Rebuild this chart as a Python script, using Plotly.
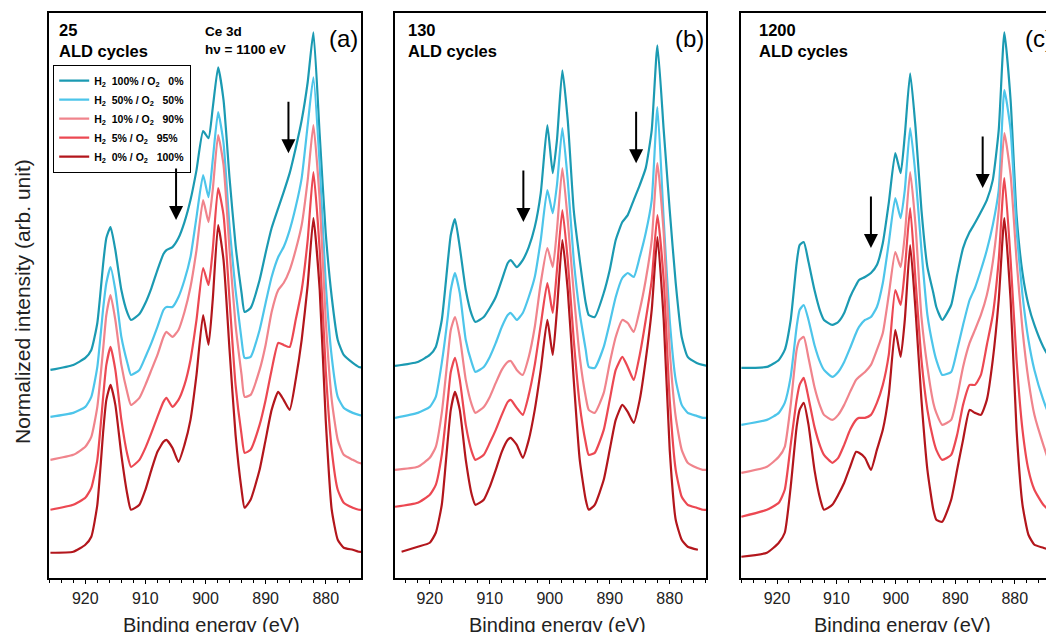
import plotly.graph_objects as go

# binding energy grid (eV) the curves were read at
energy = [925.8, 922, 920, 919, 918, 917, 916.5, 915.8, 915, 914, 913, 912.4, 911, 910, 909, 908,
          907, 906.5, 905.5, 904.5, 903.5, 902.5, 901.5, 900.4, 899.5, 898.8, 897.9, 897, 896, 895,
          894, 893.5, 892.5, 891, 890, 889, 887.9, 887, 886, 885, 884, 883, 882.05, 881, 880, 879,
          878, 877, 875.5, 874.5, 873.5]
energy_c = [926.0, 921.7, 919.7, 918.7, 917.7, 916.7, 916.2, 915.5, 914.7, 913.7, 912.7, 912.1, 910.7,
            909.7, 908.7, 907.7, 906.7, 906.2, 905.2, 904.2, 903.2, 902.2, 901.2, 900.1, 899.2, 898.5,
            897.6, 896.7, 895.7, 894.7, 893.7, 893.2, 892.2, 890.7, 889.7, 888.7, 887.6, 886.7, 885.7,
            884.7, 883.7, 882.7, 881.75, 880.7, 879.7, 878.7, 877.7, 876.7, 875.2, 874.2, 873.2]
energy_b_o2 = [924.7, 922, 920, 919, 918, 917, 916.5, 915.8, 915, 914, 913, 912.4, 911, 910, 909, 908,
               907, 906.5, 905.5, 904.5, 903.5, 902.5, 901.5, 900.4, 899.5, 898.8, 897.9, 897, 896,
               895, 894, 893.5, 892.5, 891, 890, 889, 887.9, 887, 886, 885, 884, 883, 882.05, 881,
               880, 879, 878, 877, 875.3]

labels = ["H<sub>2</sub>\u00a0\u00a0100% / O<sub>2</sub>\u00a0\u00a0\u00a00%",
          "H<sub>2</sub>\u00a0\u00a050% / O<sub>2</sub>\u00a0\u00a0\u00a050%",
          "H<sub>2</sub>\u00a0\u00a010% / O<sub>2</sub>\u00a0\u00a0\u00a090%",
          "H<sub>2</sub>\u00a0\u00a05% / O<sub>2</sub>\u00a0\u00a0\u00a095%",
          "H<sub>2</sub>\u00a0\u00a00% / O<sub>2</sub>\u00a0\u00a0\u00a0100%"]
colors = ["#1b9ab2", "#4dc5ea", "#f0848c", "#ec4852", "#b3161c"]

# (a) 25 ALD cycles, stacked normalized intensity (arb. unit)
a_h100 = [208, 213, 220, 228, 255, 316, 340, 351, 328, 288, 265, 258, 264, 275, 290, 308, 324, 328, 331, 340,
          356, 378, 408, 447, 440, 470, 511, 478, 400, 333, 285, 266, 270, 298, 325, 350, 370, 386, 405, 430,
          458, 496, 546, 443, 345, 281, 238, 223, 215, 211, 210]
a_h50 = [161, 165, 171, 181, 211, 271, 295, 311, 288, 241, 215, 203, 208, 221, 235, 251, 268, 271, 271, 281,
         298, 321, 361, 403, 381, 418, 466, 435, 351, 288, 238, 220, 221, 248, 275, 301, 321, 331, 348, 371,
         400, 453, 501, 413, 295, 221, 181, 170, 165, 163, 162]
a_h10 = [118, 123, 131, 141, 171, 231, 263, 283, 258, 213, 185, 173, 180, 193, 208, 223, 241, 246, 241, 248,
         266, 291, 328, 378, 356, 388, 443, 413, 328, 253, 203, 181, 183, 208, 233, 266, 288, 295, 308, 328,
         353, 398, 453, 378, 258, 178, 138, 123, 118, 115, 114]
a_h5 = [68, 73, 80, 90, 118, 183, 213, 231, 208, 158, 123, 111, 118, 130, 145, 161, 176, 180, 171, 178,
        193, 218, 258, 310, 293, 328, 390, 363, 278, 193, 143, 125, 128, 153, 178, 208, 235, 233, 231, 258,
        288, 338, 406, 328, 208, 128, 88, 75, 70, 68, 68]
a_h0 = [25, 26, 33, 41, 73, 148, 178, 193, 173, 123, 83, 68, 73, 88, 108, 126, 136, 138, 130, 116,
        133, 158, 203, 263, 233, 278, 353, 318, 228, 143, 88, 70, 78, 108, 138, 168, 186, 178, 168, 198,
        238, 293, 360, 288, 158, 68, 38, 30, 28, 26, 26]

# (b) 130 ALD cycles
b_h100 = [212, 216, 223, 231, 258, 316, 343, 359, 331, 288, 263, 256, 261, 270, 281, 298, 315, 318, 311, 318,
          331, 351, 385, 453, 405, 438, 508, 458, 368, 318, 275, 263, 261, 285, 308, 338, 356, 363, 378, 393,
          410, 448, 533, 448, 368, 295, 241, 221, 215, 213, 212]
b_h50 = [160, 165, 171, 181, 215, 261, 288, 305, 285, 238, 215, 206, 211, 221, 235, 251, 263, 265, 258, 265,
         281, 301, 338, 388, 365, 393, 450, 398, 318, 265, 228, 211, 210, 231, 255, 281, 300, 305, 301, 321,
         345, 378, 471, 358, 258, 198, 173, 165, 162, 160, 160]
b_h10 = [108, 111, 120, 131, 165, 221, 248, 261, 241, 198, 173, 165, 171, 181, 195, 208, 216, 217, 208, 203,
         221, 251, 295, 330, 311, 348, 410, 358, 285, 221, 181, 168, 165, 185, 215, 241, 258, 255, 246, 268,
         298, 338, 415, 345, 228, 161, 128, 115, 110, 108, 108]
b_h5 = [71, 75, 83, 93, 123, 178, 206, 220, 198, 153, 126, 118, 123, 135, 148, 163, 176, 178, 170, 163,
        183, 213, 253, 295, 265, 308, 368, 318, 238, 173, 135, 123, 125, 148, 178, 208, 221, 211, 198, 223,
        258, 298, 363, 298, 178, 108, 81, 73, 70, 68, 68]
b_h0 = [26, 31, 35, 45, 73, 138, 168, 186, 168, 118, 83, 73, 78, 91, 108, 126, 138, 140, 133, 120,
        138, 168, 208, 258, 223, 268, 338, 288, 198, 118, 78, 68, 73, 98, 128, 158, 173, 166, 155, 178,
        218, 268, 341, 258, 128, 58, 38, 31, 28]

# (c) 1200 ALD cycles
c_h100 = [210, 211, 218, 228, 258, 315, 333, 336, 316, 288, 266, 258, 253, 256, 265, 281, 293, 298, 301, 305,
          313, 335, 375, 425, 405, 443, 505, 451, 368, 311, 285, 271, 258, 273, 303, 330, 346, 355, 366, 378,
          398, 448, 546, 478, 363, 305, 273, 253, 231, 221, 213]
c_h50 = [153, 158, 165, 175, 201, 251, 268, 273, 258, 233, 215, 208, 201, 206, 216, 230, 245, 251, 258, 261,
         271, 295, 335, 380, 360, 388, 450, 403, 328, 263, 230, 218, 203, 206, 228, 253, 278, 290, 308, 328,
         353, 388, 488, 448, 348, 283, 238, 208, 178, 163, 153]
c_h10 = [105, 111, 121, 131, 173, 228, 238, 241, 220, 191, 171, 163, 158, 163, 173, 186, 198, 201, 206, 213,
         228, 245, 283, 326, 311, 343, 406, 353, 261, 211, 175, 165, 153, 158, 181, 211, 235, 248, 263, 283,
         316, 368, 445, 403, 318, 248, 198, 163, 133, 116, 106]
c_h5 = [61, 68, 75, 88, 133, 178, 193, 200, 180, 151, 131, 123, 115, 120, 133, 148, 158, 160, 160, 163,
        175, 193, 223, 288, 273, 308, 370, 298, 218, 168, 138, 128, 118, 123, 143, 173, 193, 193, 203, 233,
        263, 318, 400, 318, 218, 148, 108, 88, 73, 68, 66]
c_h0 = [21, 25, 35, 45, 91, 151, 168, 175, 153, 108, 78, 68, 73, 83, 95, 111, 126, 125, 120, 108,
        128, 148, 183, 248, 221, 258, 333, 268, 178, 108, 68, 58, 56, 78, 108, 138, 168, 165, 163, 178,
        218, 278, 360, 278, 148, 73, 43, 33, 30, 28, 28]

panels = [
    dict(curves=[a_h100, a_h50, a_h10, a_h5, a_h0], x=[energy] * 5, cycles="25", tag="(a)"),
    dict(curves=[b_h100, b_h50, b_h10, b_h5, b_h0], x=[energy] * 4 + [energy_b_o2], cycles="130", tag="(b)"),
    dict(curves=[c_h100, c_h50, c_h10, c_h5, c_h0], x=[energy_c] * 5, cycles="1200", tag="(c)"),
]

# arrows: (panel, energy, intensity at the tip)
arrow_panel = [0, 0, 1, 1, 2, 2]
arrow_e = [904.9, 886.2, 904.4, 885.6, 904.2, 885.4]
arrow_i = [358, 425, 356, 415, 330, 390]

# the page body has an 8 px margin, so the figure is laid out in page pixels minus that
OFF = 8
W, H = 1054 - OFF, 632 - OFF


def fx(px):
    return (px - OFF) / W


def fy(py):
    return 1 - (py - OFF) / H


x_dom = [(49, 361), (395, 706), (741, 1054)]
x_rng = [(926.04, 874.13), (925.8, 873.95), (926.06, 873.4)]
y_dom = [fy(577.7), fy(13.3)]
FONT = "Arial, Liberation Sans, sans-serif"

fig = go.Figure()
for p, panel in enumerate(panels):
    sfx = "" if p == 0 else str(p + 1)
    for k, yv in enumerate(panel["curves"]):
        fig.add_trace(go.Scatter(
            x=panel["x"][k], y=yv, mode="lines", name=labels[k], showlegend=(p == 0),
            line=dict(color=colors[k], width=2.2, shape="spline", smoothing=0.5),
            xaxis="x" + sfx, yaxis="y" + sfx, hoverinfo="skip"))

    fig.update_layout({
        "xaxis" + sfx: dict(domain=[fx(x_dom[p][0]), min(fx(x_dom[p][1]), 1)], range=list(x_rng[p]),
                            anchor="y" + sfx, showline=True, linecolor="black", linewidth=1.5,
                            mirror=True, ticks="outside", ticklen=5, tickwidth=1.3, tickcolor="black",
                            dtick=10, tick0=0, showgrid=False, zeroline=False,
                            tickfont=dict(family=FONT, size=16, color="#222"),
                            minor=dict(ticks="outside", ticklen=4, tickwidth=1.1, tickcolor="black",
                                       dtick=2, tick0=0, showgrid=False)),
        "yaxis" + sfx: dict(domain=y_dom, range=[0, 565], anchor="x" + sfx, showline=True,
                            linecolor="black", linewidth=1.5, mirror=(p < 2), ticks="",
                            showticklabels=False, showgrid=False, zeroline=False),
    })

ann = []
cyc_x = [57, 406, 757]
tag_x = [343, 689, 1039]
title_x = [211, 557, 902]
for p, panel in enumerate(panels):
    ann.append(dict(xref="paper", yref="paper", x=fx(cyc_x[p]), y=fy(19), xanchor="left",
                    yanchor="top", align="left", showarrow=False,
                    text="<b>%s<br>ALD cycles</b>" % panel["cycles"],
                    font=dict(family=FONT, size=16.5, color="black")))
    ann.append(dict(xref="paper", yref="paper", x=fx(tag_x[p]), y=fy(38), xanchor="center",
                    yanchor="middle", showarrow=False, text=panel["tag"],
                    font=dict(family=FONT, size=24, color="black")))
    ann.append(dict(xref="paper", yref="paper", x=fx(title_x[p]), y=fy(625), xanchor="center",
                    yanchor="middle", showarrow=False, text="Binding energy (eV)",
                    font=dict(family=FONT, size=20, color="#222")))

ann.append(dict(xref="paper", yref="paper", x=fx(203), y=fy(22), xanchor="left", yanchor="top",
                align="left", showarrow=False, text="<b>Ce 3d<br>h\u03bd = 1100 eV</b>",
                font=dict(family=FONT, size=13.5, color="black")))
ann.append(dict(xref="paper", yref="paper", x=fx(22), y=fy(302), xanchor="center",
                yanchor="middle", showarrow=False, textangle=-90,
                text="Normalized intensity (arb. unit)",
                font=dict(family=FONT, size=21, color="#222")))

for j in range(len(arrow_e)):
    sfx = "" if arrow_panel[j] == 0 else str(arrow_panel[j] + 1)
    ann.append(dict(xref="x" + sfx, yref="y" + sfx, x=arrow_e[j], y=arrow_i[j], text="",
                    showarrow=True, ax=0, ay=-53, arrowhead=2, arrowsize=1.4, arrowwidth=2,
                    arrowcolor="black", standoff=0))

fig.update_layout(
    width=W, height=H, margin=dict(l=0, r=0, t=0, b=0),
    paper_bgcolor="white", plot_bgcolor="white",
    annotations=ann,
    legend=dict(x=fx(53), y=fy(65), xanchor="left", yanchor="top", bgcolor="white",
                bordercolor="black", borderwidth=1.2, itemwidth=30, tracegroupgap=0,
                font=dict(family=FONT, size=10.5, color="black", weight="bold")),
)

fig.write_html("out.html")
